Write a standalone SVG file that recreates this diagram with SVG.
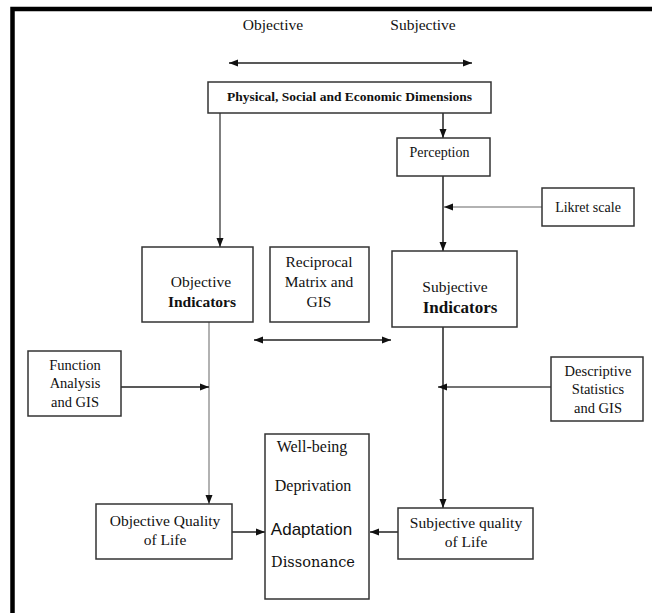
<svg xmlns="http://www.w3.org/2000/svg" width="652" height="613" viewBox="0 0 652 613">
<style>
.box{fill:#fff;stroke:#333;stroke-width:1.5}
.t{font-size:14.5px;fill:#111;text-anchor:middle}
.b{font-weight:bold}
.c{stroke:#222;stroke-width:1.5;fill:none}
.g{stroke:#999;stroke-width:1.5;fill:none}
</style>
<defs>
<marker id="ah" markerUnits="userSpaceOnUse" markerWidth="9" markerHeight="9" viewBox="0 0 9 9" refX="9" refY="4.5" orient="auto-start-reverse">
<path d="M0,1 L9,4.5 L0,8 Z" fill="#111"/>
</marker>
</defs>
<rect width="652" height="613" fill="#fff"/>
<path d="M12.5,613 V9 H652" fill="none" stroke="#000" stroke-width="4.5"/>
<g id="connectors">
<line class="c" x1="229" y1="63" x2="472" y2="63" marker-start="url(#ah)" marker-end="url(#ah)"/>
<line class="c" x1="220" y1="113" x2="220" y2="247" style="stroke:#555" marker-end="url(#ah)"/>
<line class="c" x1="443" y1="113" x2="443" y2="138" marker-end="url(#ah)"/>
<line class="c" x1="443" y1="176" x2="443" y2="251" marker-end="url(#ah)"/>
<line class="g" x1="542" y1="207" x2="444" y2="207" marker-end="url(#ah)"/>
<line class="c" x1="254" y1="340" x2="391" y2="340" marker-start="url(#ah)" marker-end="url(#ah)"/>
<line class="g" x1="209" y1="322" x2="209" y2="504" marker-end="url(#ah)"/>
<line class="c" x1="121" y1="387" x2="209" y2="387" marker-end="url(#ah)"/>
<line class="c" x1="443" y1="327" x2="443" y2="508" marker-end="url(#ah)"/>
<line class="c" x1="551" y1="387" x2="438" y2="387" style="stroke:#444" marker-end="url(#ah)"/>
<line class="c" x1="232" y1="532" x2="265" y2="532" marker-end="url(#ah)"/>
<line class="c" x1="398" y1="532" x2="370" y2="532" marker-end="url(#ah)"/>
</g>
<g font-family="'Liberation Serif', 'Times New Roman', 'DejaVu Serif', serif">
<g id="labels">
<text class="t" x="273" y="30" style="font-size:15.5px">Objective</text>
<text class="t" x="423" y="30" style="font-size:15.5px">Subjective</text>
</g>
<g id="psed">
<rect class="box" x="208" y="82" width="283" height="31"/>
<text class="t b" x="349.5" y="101" style="font-size:13.5px">Physical, Social and Economic Dimensions</text>
</g>
<g id="perception">
<rect class="box" x="397" y="138" width="93" height="38"/>
<text class="t" x="439.5" y="157" style="font-size:14px">Perception</text>
</g>
<g id="likret">
<rect class="box" x="542" y="188" width="92" height="38"/>
<text class="t" x="588" y="212" style="font-size:14px">Likret scale</text>
</g>
<g id="objind">
<rect class="box" x="142" y="247" width="111" height="75"/>
<text class="t" x="201" y="287" style="font-size:15.5px">Objective</text>
<text class="t b" x="202" y="307" style="font-size:15.5px">Indicators</text>
</g>
<g id="reciprocal">
<rect class="box" x="270" y="247" width="99" height="75"/>
<text class="t" x="319" y="267" style="font-size:15.5px">Reciprocal</text>
<text class="t" x="319" y="287" style="font-size:15.5px">Matrix and</text>
<text class="t" x="319" y="307" style="font-size:15.5px">GIS</text>
</g>
<g id="subjind">
<rect class="box" x="392" y="251" width="125" height="76"/>
<text class="t" x="455" y="292" style="font-size:15.5px">Subjective</text>
<text class="t b" x="460" y="313" style="font-size:17px">Indicators</text>
</g>
<g id="function">
<rect class="box" x="28" y="351" width="93" height="65"/>
<text class="t" x="75" y="370">Function</text>
<text class="t" x="75" y="388">Analysis</text>
<text class="t" x="75" y="407">and GIS</text>
</g>
<g id="descriptive">
<rect class="box" x="551" y="357" width="92" height="64"/>
<text class="t" x="598" y="376">Descriptive</text>
<text class="t" x="598" y="394">Statistics</text>
<text class="t" x="598" y="413">and GIS</text>
</g>
<g id="wellbeing">
<rect class="box" x="265" y="434" width="104" height="165"/>
<text class="t" x="312" y="452" style="font-size:16px">Well-being</text>
<text class="t" x="313" y="491" style="font-size:16px">Deprivation</text>
<text class="t" x="311.5" y="535" font-family="'Liberation Sans', Arial, sans-serif" style="font-size:17px">Adaptation</text>
<text class="t" x="313" y="567" font-family="'DejaVu Serif', serif" style="font-size:14.5px">Dissonance</text>
</g>
<g id="objqol">
<rect class="box" x="96" y="504" width="136" height="55"/>
<text class="t" x="165" y="526" style="font-size:15.5px">Objective Quality</text>
<text class="t" x="165" y="545" style="font-size:15.5px">of Life</text>
</g>
<g id="subjqol">
<rect class="box" x="398" y="508" width="135" height="51"/>
<text class="t" x="466" y="528" style="font-size:15.5px">Subjective quality</text>
<text class="t" x="466" y="547" style="font-size:15.5px">of Life</text>
</g>
</g>
</svg>
